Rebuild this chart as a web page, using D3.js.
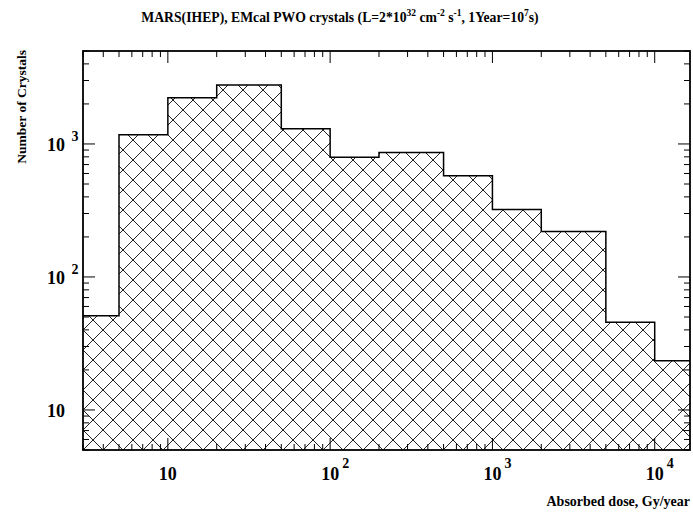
<!DOCTYPE html>
<html>
<head>
<meta charset="utf-8">
<script src="https://cdn.jsdelivr.net/npm/d3@7"></script>
<style>
  body { margin: 0; background: #fff; }
  text { font-family: "Liberation Serif", "Times New Roman", serif; font-weight: bold; fill: #000; }
</style>
</head>
<body>
<script>
// bin edges (Gy/year) and crystal counts per bin
const binEdges = [2, 5, 10, 20, 50, 100, 200, 500, 1000, 2000, 5000, 10000, 20000];
const counts = [51, 1174, 2223, 2775, 1303, 795, 861, 578, 321, 220, 45.6, 23.4];
const xTicks = [10, 100, 1000, 10000];
const yTicks = [10, 100, 1000];

const margin = { top: 51, right: 3, bottom: 64, left: 83 };
const W = 693, H = 514;
const width = W - margin.left - margin.right;
const height = H - margin.top - margin.bottom;

const x = d3.scaleLog().domain([3, 16500]).range([0, width]);
const y = d3.scaleLog().domain([5, 5000]).range([height, 0]);

const svg = d3.select('body').append('svg')
  .attr('width', W)
  .attr('height', H);

const defs = svg.append('defs');
const pat = defs.append('pattern')
  .attr('id', 'hatch')
  .attr('patternUnits', 'userSpaceOnUse')
  .attr('width', 20)
  .attr('height', 20)
  .attr('x', 0)
  .attr('y', -1);
pat.append('path')
  .attr('d', 'M0,0L20,20M20,0L0,20M-2,18L2,22M18,-2L22,2M-2,2L2,-2M18,22L22,18')
  .attr('stroke', '#222')
  .attr('stroke-width', 1)
  .attr('fill', 'none');

defs.append('clipPath').attr('id', 'clip')
  .append('rect')
  .attr('width', width)
  .attr('height', height);

const g = svg.append('g')
  .attr('transform', `translate(${margin.left},${margin.top})`);

// histogram outline
const pts = [[binEdges[0], 1]];
counts.forEach((c, i) => {
  pts.push([binEdges[i], c]);
  pts.push([binEdges[i + 1], c]);
});
pts.push([binEdges[binEdges.length - 1], 1]);

const yc = v => Math.min(y(Math.max(v, 1)), height + 5);
const line = d3.line()
  .x(d => x(d[0]))
  .y(d => yc(d[1]));

const hist = g.append('g').attr('clip-path', 'url(#clip)');
hist.append('path')
  .datum(pts)
  .attr('d', line)
  .attr('fill', 'url(#hatch)')
  .attr('stroke', 'none');
hist.append('path')
  .datum(pts)
  .attr('d', line)
  .attr('fill', 'none')
  .attr('stroke', '#000')
  .attr('stroke-width', 1.5);

// log ticks (major + minor) on all four sides, pointing inward
function logTicks (scale) {
  const [a, b] = scale.domain();
  const out = [];
  for (let e = Math.floor(Math.log10(a)); e <= Math.ceil(Math.log10(b)); e++) {
    for (let m = 1; m < 10; m++) {
      const v = m * Math.pow(10, e);
      if (v >= a && v <= b) out.push({ v, major: m === 1 });
    }
  }
  return out;
}

const tk = g.append('g').attr('stroke', '#000').attr('stroke-width', 1);
logTicks(x).forEach(t => {
  const len = t.major ? 12 : 6;
  const px = x(t.v);
  tk.append('line').attr('x1', px).attr('x2', px).attr('y1', height).attr('y2', height - len);
  tk.append('line').attr('x1', px).attr('x2', px).attr('y1', 0).attr('y2', len);
});
logTicks(y).forEach(t => {
  const len = t.major ? 12 : 6;
  const py = y(t.v);
  tk.append('line').attr('x1', 0).attr('x2', len).attr('y1', py).attr('y2', py);
  tk.append('line').attr('x1', width).attr('x2', width - len).attr('y1', py).attr('y2', py);
});

// frame
g.append('rect')
  .attr('width', width)
  .attr('height', height)
  .attr('fill', 'none')
  .attr('stroke', '#000')
  .attr('stroke-width', 1.8);

// tick labels
xTicks.forEach(v => {
  const e = Math.round(Math.log10(v));
  g.append('text')
    .attr('x', x(v))
    .attr('y', height + 30)
    .attr('font-size', 18)
    .attr('text-anchor', 'middle')
    .text('10');
  if (e > 1) {
    g.append('text')
      .attr('x', x(v) + 12)
      .attr('y', height + 18)
      .attr('font-size', 14)
      .text(e);
  }
});

yTicks.forEach(v => {
  const e = Math.round(Math.log10(v));
  g.append('text')
    .attr('x', -18)
    .attr('y', y(v) + 7)
    .attr('font-size', 18)
    .attr('text-anchor', 'end')
    .text('10');
  if (e > 1) {
    g.append('text')
      .attr('x', -8)
      .attr('y', y(v) - 3)
      .attr('font-size', 14)
      .attr('text-anchor', 'middle')
      .text(e);
  }
});

// axis titles
svg.append('text')
  .attr('x', 690)
  .attr('y', 506)
  .attr('font-size', 14)
  .attr('text-anchor', 'end')
  .text('Absorbed dose, Gy/year');

svg.append('text')
  .attr('transform', 'translate(26,50) rotate(-90)')
  .attr('font-size', 13.5)
  .attr('text-anchor', 'end')
  .text('Number of Crystals');

// title
const title = svg.append('text')
  .attr('x', 340)
  .attr('y', 22)
  .attr('font-size', 13.7)
  .attr('text-anchor', 'middle');
title.append('tspan').text('MARS(IHEP), EMcal PWO crystals (L=2*10');
title.append('tspan').attr('font-size', 9.5).attr('dy', -6).text('32');
title.append('tspan').attr('dy', 6).text(' cm');
title.append('tspan').attr('font-size', 9.5).attr('dy', -6).text('-2');
title.append('tspan').attr('dy', 6).text(' s');
title.append('tspan').attr('font-size', 9.5).attr('dy', -6).text('-1');
title.append('tspan').attr('dy', 6).text(', 1Year=10');
title.append('tspan').attr('font-size', 9.5).attr('dy', -6).text('7');
title.append('tspan').attr('dy', 6).text('s)');
</script>
</body>
</html>
